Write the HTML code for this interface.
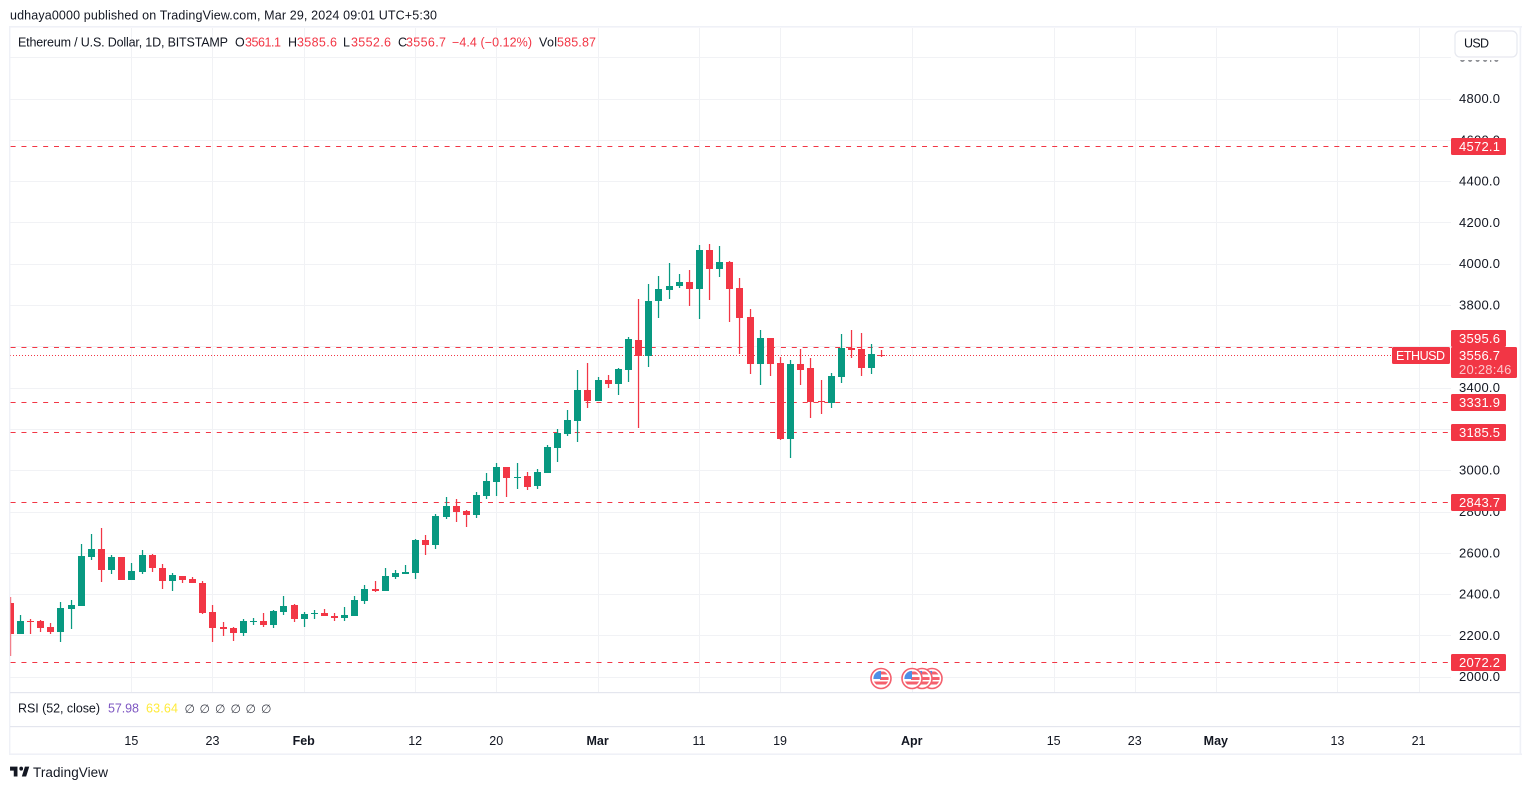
<!DOCTYPE html>
<html lang="en">
<head>
<meta charset="utf-8">
<title>ETHUSD chart</title>
<style>
html,body{margin:0;padding:0;background:#fff;width:1531px;height:789px;overflow:hidden}
svg{display:block;font-family:"Liberation Sans",sans-serif}
text{fill:#131722;font-size:12.5px}
.red{fill:#f23645}
</style>
</head>
<body>
<svg id="chart" width="1531" height="789" viewBox="0 0 1531 789" xmlns="http://www.w3.org/2000/svg">
  <defs>
    <clipPath id="pane-clip"><rect x="10" y="27" width="1441" height="665"/></clipPath>
  </defs>
  <rect width="1531" height="789" fill="#fff"/>
  <text x="10" y="19.5" font-size="12" textLength="427">udhaya0000 published on TradingView.com, Mar 29, 2024 09:01 UTC+5:30</text>

  <g id="grid"></g>
  <g id="levels"></g>
  <g id="candles" clip-path="url(#pane-clip)"></g>
  <g id="events"></g>
  <g id="price-axis"></g>
  <g id="price-labels"></g>

  <rect x="1452" y="28" width="68" height="32.5" fill="#fff"/>
  <g>
    <rect x="1455" y="31" width="62" height="26" rx="5" fill="#fff" stroke="#e6e8ef" stroke-width="1.2"/>
    <text x="1464" y="47.5" textLength="25">USD</text>
  </g>

  <g>
    <text x="18" y="46.5" textLength="210">Ethereum / U.S. Dollar, 1D, BITSTAMP</text>
    <text x="235" y="46.5">O</text>
    <text class="red" x="245" y="46.5" textLength="36">3561.1</text>
    <text x="288" y="46.5">H</text>
    <text class="red" x="297" y="46.5" textLength="40">3585.6</text>
    <text x="343" y="46.5">L</text>
    <text class="red" x="351" y="46.5" textLength="40">3552.6</text>
    <text x="398" y="46.5">C</text>
    <text class="red" x="406" y="46.5" textLength="40">3556.7</text>
    <text class="red" x="452" y="46.5" textLength="80">−4.4 (−0.12%)</text>
    <text x="539" y="46.5" textLength="18">Vol</text>
    <text class="red" x="557" y="46.5" textLength="39">585.87</text>
  </g>

  <g>
    <text x="18" y="712.5" textLength="82">RSI (52, close)</text>
    <text x="108" y="712.5" style="fill:#7e57c2" textLength="31">57.98</text>
    <text x="146" y="712.5" style="fill:#ffeb3b" textLength="32">63.64</text>
    <g font-family="DejaVu Sans, sans-serif">
      <text x="184.5" y="713" style="font-size:12px;fill:#3c3f4a">∅</text>
      <text x="199.5" y="713" style="font-size:12px;fill:#3c3f4a">∅</text>
      <text x="215" y="713" style="font-size:12px;fill:#3c3f4a">∅</text>
      <text x="230.5" y="713" style="font-size:12px;fill:#3c3f4a">∅</text>
      <text x="245.5" y="713" style="font-size:12px;fill:#3c3f4a">∅</text>
      <text x="261" y="713" style="font-size:12px;fill:#3c3f4a">∅</text>
    </g>
  </g>

  <g id="time-axis"></g>

  <g fill="#eff1f7">
    <rect x="9" y="26" width="1513" height="1.6"/>
    <rect x="9" y="753.4" width="1513" height="1.6"/>
    <rect x="9" y="26" width="1.4" height="729"/>
    <rect x="1519.6" y="26" width="1.6" height="729"/>
    <rect x="10" y="692" width="1510" height="1.2" fill="#e4e6ee"/>
    <rect x="10" y="726" width="1510" height="1.2" fill="#e4e6ee"/>
  </g>

  <g>
    <path transform="translate(8.8 762.7) scale(.62 .66)" d="M14 6H2v6h6v9h6V6zm14 15h-7l5-15h7l-5 15zm-8-9a3 3 0 1 0 0-6 3 3 0 0 0 0 6z" fill="#131722"/>
    <text x="33" y="777" style="font-size:13.5px" textLength="75">TradingView</text>
  </g>
</svg>

<script>
const categories = ["01-03","01-04","01-05","01-06","01-07","01-08","01-09","01-10","01-11","01-12","01-13","01-14","01-15","01-16","01-17","01-18","01-19","01-20","01-21","01-22","01-23","01-24","01-25","01-26","01-27","01-28","01-29","01-30","01-31",
"02-01","02-02","02-03","02-04","02-05","02-06","02-07","02-08","02-09","02-10","02-11","02-12","02-13","02-14","02-15","02-16","02-17","02-18","02-19","02-20","02-21","02-22","02-23","02-24","02-25","02-26","02-27","02-28","02-29",
"03-01","03-02","03-03","03-04","03-05","03-06","03-07","03-08","03-09","03-10","03-11","03-12","03-13","03-14","03-15","03-16","03-17","03-18","03-19","03-20","03-21","03-22","03-23","03-24","03-25","03-26","03-27","03-28","03-29"];
const opens = [2359,2209,2272,2272,2243,2219,2330,2345,2582,2621,2519,2582,2471,2509,2592,2529,2466,2490,2476,2456,2316,2243,2238,2214,2268,2272,2253,2316,2350,
2282,2306,2311,2297,2287,2297,2369,2427,2417,2485,2500,2505,2664,2640,2775,2829,2804,2785,2877,2945,3018,2965,2974,2926,2989,3110,3178,3241,3391,
3338,3439,3420,3488,3633,3555,3822,3875,3894,3914,3880,4069,3977,4011,3885,3744,3517,3643,3522,3154,3517,3497,3338,3328,3454,3594,3590,3497,3561.1];
const highs = [2388,2301,2282,2277,2263,2364,2374,2645,2693,2722,2592,2582,2553,2616,2597,2548,2505,2490,2485,2466,2350,2268,2243,2282,2287,2311,2326,2393,2355,
2316,2326,2330,2311,2340,2393,2447,2466,2529,2519,2543,2669,2688,2790,2873,2863,2809,2897,2989,3037,3018,3037,2994,3008,3124,3202,3294,3488,3522,
3454,3463,3497,3648,3832,3904,3943,4006,3953,3972,4093,4098,4088,4016,3933,3783,3681,3643,3551,3536,3590,3546,3439,3473,3662,3681,3667,3614,3585.6];
const lows = [2103,2209,2209,2219,2209,2171,2233,2345,2567,2461,2500,2471,2471,2500,2509,2427,2417,2456,2456,2306,2171,2200,2175,2200,2253,2243,2238,2301,2268,
2243,2282,2297,2272,2272,2297,2355,2413,2417,2476,2500,2476,2592,2621,2765,2751,2727,2771,2863,2877,2873,2911,2906,2911,2989,3042,3168,3139,3304,
3338,3401,3367,3430,3207,3502,3739,3832,3885,3798,3735,3827,3938,3720,3565,3468,3415,3459,3149,3062,3415,3255,3275,3304,3425,3546,3459,3468,3552.6];
const closes = [2209,2272,2268,2238,2219,2335,2350,2587,2621,2519,2582,2471,2514,2592,2529,2466,2495,2471,2456,2311,2238,2233,2214,2272,2272,2253,2321,2345,2282,
2306,2311,2297,2287,2301,2374,2427,2417,2490,2505,2509,2664,2640,2780,2829,2800,2785,2882,2950,3018,2965,2969,2921,2994,3115,3183,3246,3391,3338,
3439,3420,3493,3638,3555,3822,3880,3894,3914,3880,4069,3977,4011,3880,3739,3517,3643,3517,3154,3517,3488,3333,3333,3459,3594,3585,3497,3565,3556.7];
const priceTicks = [5000,4800,4600,4400,4200,4000,3800,3600,3400,3200,3000,2800,2600,2400,2200,2000];
const levelValues = [4572.1,3595.6,3331.9,3185.5,2843.7,2072.2];
const lastPrice = 3556.7;
const countdown = "20:28:46";
const symbolTag = "ETHUSD";
const timeTickDates = ["01-15","01-23","02-01","02-12","02-20","03-01","03-11","03-19","04-01","04-15","04-23","05-01","05-13","05-21"];
const timeTickLabels = ["15","23","Feb","12","20","Mar","11","19","Apr","15","23","May","13","21"];
const eventDates = ["04-03","04-02","04-01","03-29"];

const NS = "http://www.w3.org/2000/svg";
function make(tag, parent, attrs) {
  const el = document.createElementNS(NS, tag);
  for (const k in attrs) el.setAttribute(k, attrs[k]);
  parent.appendChild(el);
  return el;
}
function dayIndex(s) {
  const p = s.split("-");
  return (Date.UTC(2024, +p[0] - 1, +p[1]) - Date.UTC(2024, 0, 1)) / 864e5;
}
const xScale = d => 10.135 * dayIndex(d) - 10;
const yScale = p => 662.3 - (p - 2072.2) * 0.2065;
const RED = "#f23645", GREEN = "#089981", GRID = "#f1f2f5";

const grid = document.getElementById("grid");
priceTicks.forEach(p => {
  const y = Math.floor(yScale(p));
  if (y < 28) return;
  const l = make("rect", grid, {x: 10, y: y, width: 1441, height: 1, fill: GRID});
  
  
});
timeTickDates.forEach(d => {
  const x = Math.floor(xScale(d));
  const l = make("rect", grid, {x: x, y: 28, width: 1, height: 664, fill: GRID});
  
  
});

const levels = document.getElementById("levels");
levelValues.forEach(v => {
  const y = Math.floor(yScale(v)) + 0.5;
  const endX = v > lastPrice && y > 300 ? 1392 : 1451;
  const l = make("line", levels, {x1: 10.6, x2: endX, y1: y, y2: y, stroke: RED, "stroke-width": 1, "stroke-dasharray": "5 5.85"});
  
  
});
const lastY = Math.floor(yScale(lastPrice)) + 0.5;
const lastLine = make("line", levels, {x1: 10, x2: 1392, y1: lastY, y2: lastY, stroke: RED, "stroke-width": 1, "stroke-dasharray": "1 2"});



const candleGroup = document.getElementById("candles");
categories.forEach((d, i) => {
  const x = Math.floor(xScale(d));
  const col = closes[i] >= opens[i] ? GREEN : RED;
  const top = Math.round(yScale(Math.max(opens[i], closes[i])));
  const bot = Math.round(yScale(Math.min(opens[i], closes[i])));
  const hi = Math.round(yScale(highs[i]));
  const lo = Math.round(yScale(lows[i]));
  const g = make("g", candleGroup, {});
  
  
  make("rect", g, {x: x - 0.1, y: hi, width: 1.25, height: Math.max(lo - hi, 1), fill: col});
  make("rect", g, {x: x - 3, y: top, width: 7, height: Math.max(bot - top, 1), fill: col});
});

const eventsGroup = document.getElementById("events");
eventDates.forEach((d, i) => {
  const cx = Math.floor(xScale(d));
  const cy = 678.5;
  const g = make("g", eventsGroup, {});
  
  
  make("circle", g, {cx: cx, cy: cy, r: 10, fill: "#fff", stroke: "#f4606d", "stroke-width": 1.6});
  const cp = make("clipPath", g, {id: "flag-clip-" + i});
  make("circle", cp, {cx: cx, cy: cy, r: 7.6});
  const f = make("g", g, {"clip-path": "url(#flag-clip-" + i + ")"});
  make("rect", f, {x: cx - 8, y: cy - 8, width: 16, height: 16, fill: "#fff"});
  make("rect", f, {x: cx - 1, y: cy - 7, width: 9, height: 3, fill: "#f4606d"});
  make("rect", f, {x: cx - 1, y: cy - 1.5, width: 9, height: 3, fill: "#f4606d"});
  make("rect", f, {x: cx - 8, y: cy + 3, width: 16, height: 3, fill: "#f4606d"});
  make("rect", f, {x: cx - 8, y: cy - 8, width: 8, height: 8.5, fill: "#4f8fe6"});
});

const axis = document.getElementById("price-axis");
priceTicks.forEach(p => {
  const t = make("text", axis, {x: 1459, y: yScale(p) + 4, "letter-spacing": ".25", style: "font-size:13px"});
  t.textContent = p.toFixed(1);
  
  
});

const labels = document.getElementById("price-labels");
const lastTop = Math.floor(yScale(lastPrice)) - 8;
levelValues.forEach(v => {
  let top = Math.floor(yScale(v)) - 8;
  if (v > lastPrice && top + 17 > lastTop) top = lastTop - 17;
  const g = make("g", labels, {});
  
  
  make("rect", g, {x: 1451, y: top, width: 55, height: 17, rx: 1.5, fill: RED});
  const t = make("text", g, {x: 1459, y: top + 13, "letter-spacing": ".25", style: "font-size:13px;fill:#fff"});
  t.textContent = v.toFixed(1);
});
const lastBox = make("g", labels, {});


make("rect", lastBox, {x: 1451, y: lastTop, width: 66, height: 31, rx: 1.5, fill: RED});
const lastText = make("text", lastBox, {x: 1459, y: lastTop + 13, "letter-spacing": ".25", style: "font-size:13px;fill:#fff"});
lastText.textContent = lastPrice.toFixed(1);
const timerText = make("text", lastBox, {x: 1459, y: lastTop + 27, "letter-spacing": ".25", style: "font-size:13px;fill:#fff;fill-opacity:.72"});
timerText.textContent = countdown;
const tagBox = make("g", labels, {});


make("rect", tagBox, {x: 1392, y: lastTop, width: 58, height: 17, rx: 1.5, fill: RED});
const tagText = make("text", tagBox, {x: 1396, y: lastTop + 13, textLength: 49, style: "font-size:12.5px;fill:#fff"});
tagText.textContent = symbolTag;

const timeAxis = document.getElementById("time-axis");
timeTickDates.forEach((d, i) => {
  const isMonth = isNaN(+timeTickLabels[i]);
  const t = make("text", timeAxis, {x: xScale(d) - 0.5, y: 745, "text-anchor": "middle", "font-weight": isMonth ? "bold" : "normal", style: "font-size:12.5px"});
  t.textContent = timeTickLabels[i];
  
  
});
</script>
</body>
</html>
